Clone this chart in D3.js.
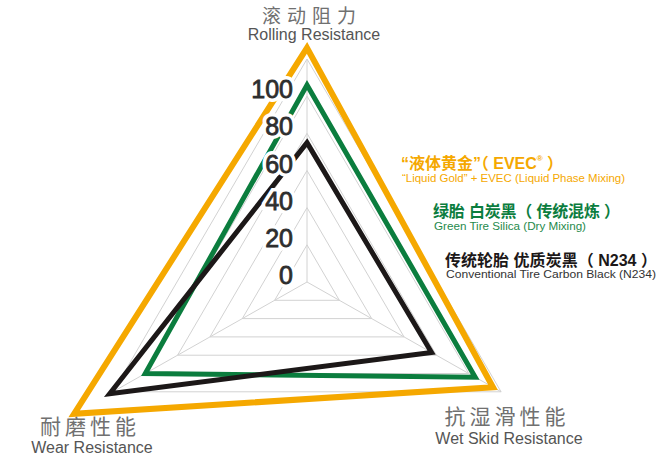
<!DOCTYPE html>
<html>
<head>
<meta charset="utf-8">
<script src="https://cdn.jsdelivr.net/npm/d3@7"></script>
<style>
  body { margin: 0; background: #fff; }
  #chart { width: 660px; height: 465px; }
</style>
</head>
<body>
<div id="chart"></div>
<script>
// Axis titles (clockwise from the top)
const axisNames = ['滚动阻力', '抗湿滑性能', '耐磨性能'];
const axisNamesEn = ['Rolling Resistance', 'Wet Skid Resistance', 'Wear Resistance'];

// Radial ticks and grid rings
const tickValues = [0, 20, 40, 60, 80, 100];
const gridLevels = [20, 40, 60, 80, 100, 120];

// Series names
const seriesNames = ['“液体黄金”（ EVEC', '绿胎 白炭黑（ 传统混炼 ）', '传统轮胎  优质炭黑（ N234 ）'];
const seriesNamesEn = ['“Liquid Gold” + EVEC (Liquid Phase Mixing)', 'Green Tire Silica (Dry Mixing)', 'Conventional Tire Carbon Black (N234)'];

// Values per axis: rolling, wet skid, wear
const evecValues = [126, 115, 144];
const silicaValues = [106, 104, 100];
const carbonValues = [75, 77, 122];

const width = 660;
const height = 465;
const cx = 307;
const cy = 282;
const angles = [-90, 29.5, 150.5].map((a) => a * Math.PI / 180);
const colours = ['#f5a800', '#0b7d3e', '#1c1818'];
const strokeWidths = [6, 5, 5];

const r = d3.scaleLinear().domain([0, 120]).range([0, 223]);

const point = (v, i) => [cx + r(v) * Math.cos(angles[i]), cy + r(v) * Math.sin(angles[i])];

const svg = d3.select('#chart')
  .append('svg')
  .attr('width', width)
  .attr('height', height)
  .style('background-color', 'white');

// Grid rings
const line = d3.line();
svg.append('g')
  .selectAll('path')
  .data(gridLevels)
  .enter()
  .append('path')
  .attr('d', (lv) => line(angles.map((a, i) => point(lv, i))) + 'Z')
  .attr('fill', 'none')
  .attr('stroke', '#d2d2d2')
  .attr('stroke-width', 1);

// Spokes
svg.append('g')
  .selectAll('line')
  .data(angles)
  .enter()
  .append('line')
  .attr('x1', cx)
  .attr('y1', cy)
  .attr('x2', (a, i) => point(120, i)[0])
  .attr('y2', (a, i) => point(120, i)[1])
  .attr('stroke', '#d2d2d2')
  .attr('stroke-width', 1);

// Series polygons
const series = [evecValues, silicaValues, carbonValues];
svg.append('g')
  .selectAll('path')
  .data(series)
  .enter()
  .append('path')
  .attr('d', (vals) => line(vals.map((v, i) => point(v, i))) + 'Z')
  .attr('fill', 'none')
  .attr('stroke', (d, i) => colours[i])
  .attr('stroke-width', (d, i) => strokeWidths[i])
  .attr('stroke-linejoin', 'miter')
  .attr('stroke-miterlimit', 10);

// Tick labels, knocked out of the lines with a white halo
const tickY = (v) => point(v, 0)[1] + 2;
svg.append('g')
  .selectAll('text')
  .data(tickValues)
  .enter()
  .append('text')
  .attr('x', 293)
  .attr('y', tickY)
  .attr('text-anchor', 'end')
  .attr('font-family', 'Liberation Sans, Arial, sans-serif')
  .attr('font-size', '25px')
  .attr('fill', 'white')
  .attr('stroke', 'white')
  .attr('stroke-width', 8)
  .text((v) => v);
svg.append('g')
  .selectAll('text')
  .data(tickValues)
  .enter()
  .append('text')
  .attr('x', 293)
  .attr('y', tickY)
  .attr('text-anchor', 'end')
  .attr('font-family', 'Liberation Sans, Arial, sans-serif')
  .attr('font-size', '25px')
  .attr('fill', '#2e2e2e')
  .attr('stroke', '#2e2e2e')
  .attr('stroke-width', 0.8)
  .text((v) => v);

// Axis titles
const titlePos = [
  { x: 312, y: 23, ey: 40 },
  { x: 507, y: 424, ey: 444 },
  { x: 90, y: 434, ey: 453 },
];
const titles = svg.append('g');
axisNames.forEach((name, i) => {
  titles.append('text')
    .attr('x', titlePos[i].x)
    .attr('y', titlePos[i].y)
    .attr('text-anchor', 'middle')
    .attr('font-family', 'Noto Sans CJK SC, sans-serif')
    .attr('font-size', i === 0 ? '19px' : '21px')
    .attr('letter-spacing', i === 0 ? '6px' : '4px')
    .attr('fill', '#707070')
    .text(name);
  titles.append('text')
    .attr('x', titlePos[i].x + 2)
    .attr('y', titlePos[i].ey)
    .attr('text-anchor', 'middle')
    .attr('font-family', 'Liberation Sans, Arial, sans-serif')
    .attr('font-size', '16px')
    .attr('fill', '#555')
    .text(axisNamesEn[i]);
});

// Legend
const legendPos = [
  { x: 401, y: 169, ey: 182, w: 162, ew: 223 },
  { x: 433, y: 217, ey: 230, w: 187, ew: 152 },
  { x: 445, y: 266, ey: 278, w: 212, ew: 210 },
];
const legendEnColours = ['#f5a800', '#1f8a4c', '#333'];
const legend = svg.append('g');
seriesNames.forEach((name, i) => {
  const t = legend.append('text')
    .attr('x', legendPos[i].x)
    .attr('y', legendPos[i].y)
    .attr('font-family', 'Liberation Sans, Noto Sans CJK SC, sans-serif')
    .attr('font-size', '16px')
    .attr('font-weight', 'bold')
    .attr('fill', colours[i])
    .attr('textLength', legendPos[i].w)
    .attr('lengthAdjust', 'spacing')
    .text(name);
  if (i === 0) {
    t.append('tspan').attr('font-size', '8px').attr('dy', -8).text('®');
    t.append('tspan').attr('dy', 8).text(' ）');
  }
  legend.append('text')
    .attr('x', legendPos[i].x + 1)
    .attr('y', legendPos[i].ey)
    .attr('font-family', 'Liberation Sans, Arial, sans-serif')
    .attr('font-size', '11px')
    .attr('fill', legendEnColours[i])
    .attr('textLength', legendPos[i].ew)
    .attr('lengthAdjust', 'spacingAndGlyphs')
    .text(seriesNamesEn[i]);
});
</script>
</body>
</html>
